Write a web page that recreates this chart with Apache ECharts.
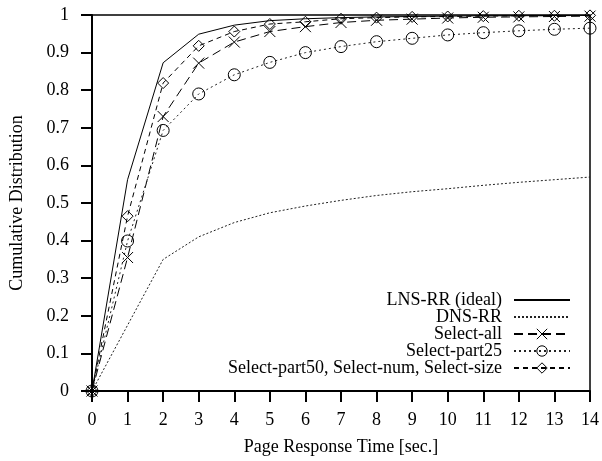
<!DOCTYPE html>
<html>
<head>
<meta charset="utf-8">
<script src="https://cdn.jsdelivr.net/npm/echarts@6/dist/echarts.min.js"></script>
<style>
  html, body { margin: 0; padding: 0; background: #fff; }
  #chart { width: 602px; height: 461px; }
</style>
</head>
<body>
<div id="chart"></div>
<script>
// Page response time CDF for several server-selection policies
const times = [0, 1, 2, 3, 4, 5, 6, 7, 8, 9, 10, 11, 12, 13, 14];
const lnsRR = [0, 0.562, 0.873, 0.949, 0.973, 0.985, 0.990, 0.993, 0.995, 0.996, 0.997, 0.998, 0.998, 0.999, 0.999];
const dnsRR = [0, 0.175, 0.350, 0.410, 0.448, 0.474, 0.492, 0.507, 0.520, 0.530, 0.538, 0.547, 0.555, 0.562, 0.569];
const selectAll = [0, 0.355, 0.730, 0.872, 0.928, 0.956, 0.969, 0.980, 0.986, 0.989, 0.992, 0.994, 0.995, 0.996, 0.997];
const selectPart25 = [0, 0.399, 0.693, 0.790, 0.841, 0.874, 0.900, 0.916, 0.929, 0.938, 0.947, 0.953, 0.958, 0.962, 0.965];
const selectPart50 = [0, 0.465, 0.819, 0.918, 0.956, 0.976, 0.982, 0.990, 0.993, 0.995, 0.996, 0.997, 0.998, 0.998, 0.999];

const seriesNames = [
  'LNS-RR (ideal)',
  'DNS-RR',
  'Select-all',
  'Select-part25',
  'Select-part50, Select-num, Select-size'
];

const FONT = 'Liberation Serif';
const pairs = ys => times.map((t, i) => [t, ys[i]]);
const hollow = { color: 'rgba(0,0,0,0)', borderColor: '#000', borderWidth: 1 };
// plain lines: keep the legend sample free of any marker
const noMark = { color: 'rgba(0,0,0,0)', borderColor: 'rgba(0,0,0,0)', borderWidth: 0 };

const chart = echarts.init(document.getElementById('chart'), null, { renderer: 'canvas' });
chart.setOption({
  animation: false,
  backgroundColor: '#fff',
  textStyle: { fontFamily: FONT, color: '#000' },
  grid: {
    left: 92, right: 9, top: 15, bottom: 69,
    show: true, borderColor: '#000', borderWidth: 1.5, backgroundColor: 'transparent'
  },
  xAxis: {
    type: 'value', min: 0, max: 14, interval: 1,
    name: 'Page Response Time [sec.]', nameLocation: 'middle', nameGap: 47,
    nameTextStyle: { fontFamily: FONT, fontSize: 18, color: '#000' },
    axisLine: { show: true, lineStyle: { color: '#000', width: 2 } },
    axisTick: { show: true, inside: false, length: 11, lineStyle: { color: '#000', width: 2 } },
    axisLabel: { fontFamily: FONT, fontSize: 18, color: '#000', margin: 20 },
    splitLine: { show: false }
  },
  yAxis: {
    type: 'value', min: 0, max: 1, interval: 0.1,
    name: 'Cumulative Distribution', nameLocation: 'middle', nameGap: 66, nameRotate: 90,
    nameTextStyle: { fontFamily: FONT, fontSize: 18, color: '#000' },
    axisLine: { show: true, lineStyle: { color: '#000', width: 2 } },
    axisTick: { show: true, inside: false, length: 11, lineStyle: { color: '#000', width: 2 } },
    axisLabel: { fontFamily: FONT, fontSize: 18, color: '#000', margin: 23 },
    splitLine: { show: false }
  },
  legend: {
    orient: 'vertical', align: 'right', right: 26, top: 286,
    itemWidth: 56, itemHeight: 13, itemGap: -1,
    itemStyle: { borderWidth: 1 },
    textStyle: { fontFamily: FONT, fontSize: 18, color: '#000', padding: [0, 7, 0, 0] },
    data: seriesNames
  },
  series: [
    {
      name: seriesNames[0], type: 'line', data: pairs(lnsRR),
      symbol: 'none', lineStyle: { color: '#000', width: 1, type: 'solid' },
      itemStyle: noMark
    },
    {
      name: seriesNames[1], type: 'line', data: pairs(dnsRR),
      symbol: 'none', lineStyle: { color: '#222', width: 1, type: [2, 2] },
      itemStyle: noMark
    },
    {
      name: seriesNames[2], type: 'line', data: pairs(selectAll),
      symbol: 'path://M0,0L10,10M0,10L10,0', symbolSize: 11,
      lineStyle: { color: '#000', width: 1, type: [9, 5] },
      itemStyle: hollow
    },
    {
      name: seriesNames[3], type: 'line', data: pairs(selectPart25),
      symbol: 'circle', symbolSize: 12,
      lineStyle: { color: '#222', width: 1, type: [2, 3] },
      itemStyle: hollow
    },
    {
      name: seriesNames[4], type: 'line', data: pairs(selectPart50),
      symbol: 'diamond', symbolSize: 11,
      lineStyle: { color: '#000', width: 1, type: [5, 4] },
      itemStyle: hollow
    }
  ]
});
</script>
</body>
</html>
